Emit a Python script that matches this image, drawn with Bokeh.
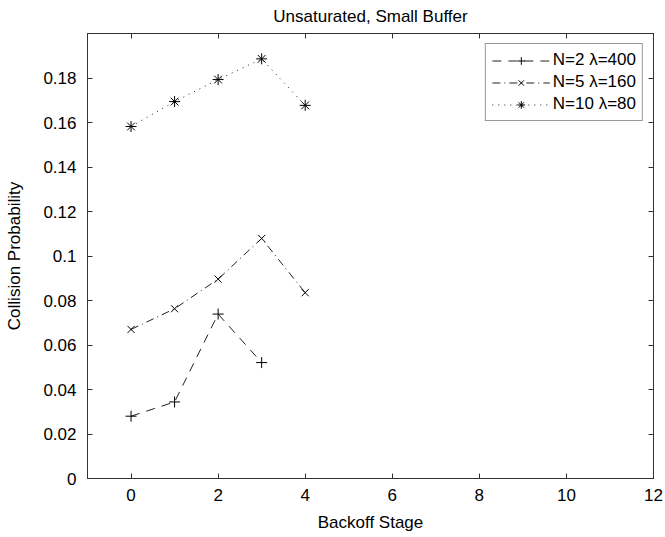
from bokeh.plotting import figure
from bokeh.models import Range1d, LinearAxis, FixedTicker, Legend, LegendItem
from bokeh.embed import file_html
from bokeh.resources import INLINE

# ---- data ----
stages_n2 = [0, 1, 2, 3]
prob_n2 = [0.0280, 0.0344, 0.0739, 0.0521]

stages_n5 = [0, 1, 2, 3, 4]
prob_n5 = [0.0670, 0.0763, 0.0896, 0.1079, 0.0835]

stages_n10 = [0, 1, 2, 3, 4]
prob_n10 = [0.1582, 0.1694, 0.1793, 0.1886, 0.1677]

labels = ["N=2 \u03bb=400", "N=5 \u03bb=160", "N=10 \u03bb=80"]

x_ticks = [0, 2, 4, 6, 8, 10, 12]
y_ticks = [0, 0.02, 0.04, 0.06, 0.08, 0.1, 0.12, 0.14, 0.16, 0.18]
y_tick_labels = ["0", "0.02", "0.04", "0.06", "0.08", "0.1", "0.12", "0.14", "0.16", "0.18"]

FONT = "Liberation Sans"
FS = "17px"
AX = "#333333"

p = figure(width=665, height=537,
           x_range=Range1d(-1, 12), y_range=Range1d(0, 0.2),
           output_backend="svg", toolbar_location=None,
           title="Unsaturated, Small Buffer",
           min_border_left=87, min_border_right=12,
           min_border_top=33, min_border_bottom=59)

p.background_fill_color = "white"
p.border_fill_color = "white"
p.xgrid.visible = False
p.ygrid.visible = False
p.outline_line_color = AX
p.outline_line_width = 1

p.title.align = "center"
p.title.text_font = FONT
p.title.text_font_size = FS
p.title.text_font_style = "normal"
p.title.text_color = "black"
p.title.standoff = 12
p.title.vertical_align = "top"
p.title.text_line_height = 0.4


def style_axis(ax, ticks, show_labels=True):
    ax.ticker = FixedTicker(ticks=ticks)
    ax.axis_line_color = AX
    ax.major_tick_line_color = AX
    ax.major_tick_in = 5
    ax.major_tick_out = 0
    ax.minor_tick_line_color = None
    ax.major_label_text_font = FONT
    ax.major_label_text_font_size = FS if show_labels else "0px"
    ax.major_label_text_color = "black"
    ax.axis_label_text_font = FONT
    ax.axis_label_text_font_size = FS
    ax.axis_label_text_font_style = "normal"
    ax.axis_label_text_color = "black"
    if not show_labels:
        ax.major_label_standoff = 0
        ax.major_label_text_color = None


xa = p.xaxis[0]
style_axis(xa, x_ticks)
xa.axis_label = "Backoff Stage"
xa.major_label_standoff = 10
xa.axis_label_standoff = 9

ya = p.yaxis[0]
style_axis(ya, y_ticks)
ya.axis_label = "Collision Probability"
ya.major_label_standoff = 11
ya.axis_label_standoff = 16
ya.major_label_overrides = {t: s for t, s in zip(y_ticks, y_tick_labels)}

top_ax = LinearAxis()
style_axis(top_ax, x_ticks, show_labels=False)
p.add_layout(top_ax, "above")

right_ax = LinearAxis()
style_axis(right_ax, y_ticks, show_labels=False)
p.add_layout(right_ax, "right")

LC = "#222222"
l1 = p.line(stages_n2, prob_n2, line_color=LC, line_width=1, line_dash="9 7")
m1 = p.scatter(stages_n2, prob_n2, marker="cross", size=11, line_color="black", line_width=1)

l2 = p.line(stages_n5, prob_n5, line_color=LC, line_width=1, line_dash="8 4 1 4")
m2 = p.scatter(stages_n5, prob_n5, marker="x", size=10, line_color="black", line_width=1)

l3 = p.line(stages_n10, prob_n10, line_color=LC, line_width=1, line_dash="1 5")
m3 = p.scatter(stages_n10, prob_n10, marker="asterisk", size=11, line_color="black", line_width=1)

legend = Legend(items=[
    LegendItem(label=labels[0], renderers=[l1, m1]),
    LegendItem(label=labels[1], renderers=[l2, m2]),
    LegendItem(label=labels[2], renderers=[l3, m3]),
])
legend.location = "top_right"
legend.margin = 10
legend.padding = 6
legend.spacing = 2
legend.glyph_width = 58
legend.glyph_height = 19
legend.label_height = 19
legend.label_standoff = 3
legend.label_text_font = FONT
legend.label_text_font_size = FS
legend.label_text_color = "black"
legend.border_line_color = AX
legend.border_line_width = 1
legend.background_fill_color = "white"
legend.background_fill_alpha = 1.0
p.add_layout(legend)

open("out.html", "w").write(file_html(p, INLINE))
